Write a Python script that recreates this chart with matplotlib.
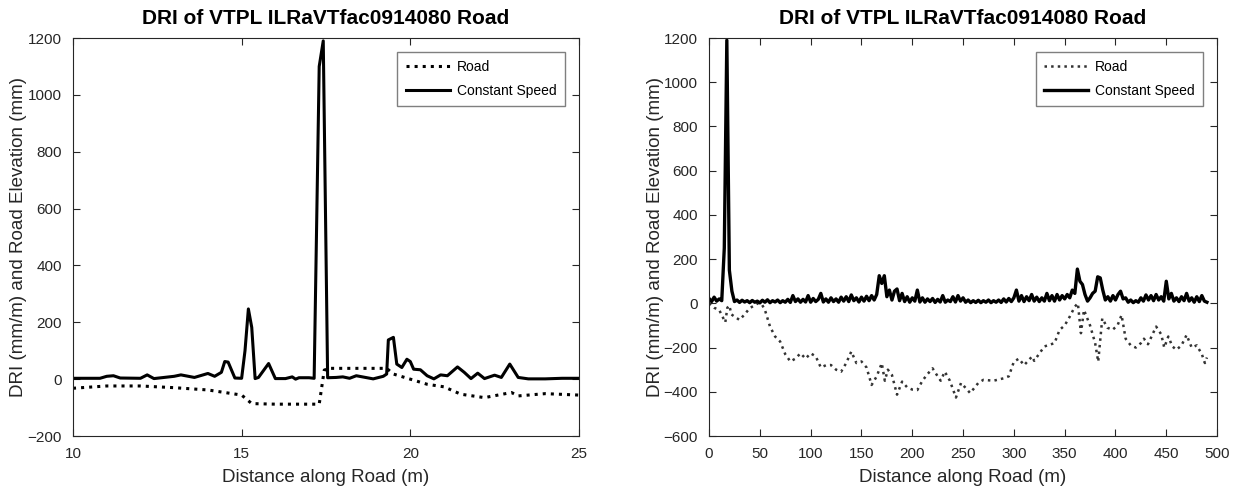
import matplotlib
matplotlib.use("Agg")
import matplotlib.pyplot as plt
import numpy as np

plt.rcParams['font.family'] = ['Liberation Sans', 'DejaVu Sans']

# ---- data ----
title = "DRI of VTPL ILRaVTfac0914080 Road"
xlabel = "Distance along Road (m)"
ylabel = "DRI (mm/m) and Road Elevation (mm)"

# left panel: zoom 10-25 m
zoom_dri_x = [10.0, 10.8, 11.0, 11.2, 11.4, 12.0, 12.2, 12.4, 13.0, 13.2, 13.6, 14.0, 14.2,
              14.4, 14.5, 14.6, 14.8, 15.0, 15.1, 15.2, 15.3, 15.4, 15.5, 15.8, 16.0, 16.3,
              16.5, 16.6, 16.7, 17.0, 17.15, 17.3, 17.42, 17.55, 17.8, 18.0, 18.2, 18.4,
              18.9, 19.2, 19.3, 19.35, 19.5, 19.6, 19.75, 19.9, 20.0, 20.1, 20.3, 20.5,
              20.7, 20.9, 21.1, 21.4, 21.6, 21.8, 22.0, 22.2, 22.5, 22.7, 22.95, 23.2,
              23.5, 24.0, 24.5, 25.0]
zoom_dri_y = [3, 3, 10, 12, 4, 3, 15, 2, 10, 15, 6, 20, 10,
              24, 62, 60, 4, 3, 100, 247, 182, 2, 6, 55, 2, 2,
              8, 0, 5, 5, 3, 1100, 1190, 5, 6, 8, 3, 12,
              1, 10, 18, 138, 147, 53, 41, 70, 62, 35, 33, 12,
              1, 15, 12, 43, 24, 2, 21, 2, 14, 6, 53, 6,
              1, 1, 3, 3]

zoom_road_x = [10.0, 11.0, 12.0, 13.0, 14.0, 14.5, 15.0, 15.3, 16.0, 17.3, 17.45, 17.6,
               19.3, 19.5, 20.0, 20.5, 21.0, 21.5, 22.2, 22.6, 23.0, 23.2, 24.0, 25.0]
zoom_road_y = [-32, -24, -24, -30, -38, -47, -56, -86, -88, -88, 32, 38,
               38, 18, 0, -18, -27, -53, -65, -56, -47, -59, -51, -56]

# right panel: whole road, DRI sampled every 2.5 m from 0 to 490 m
full_dri_y = [22, 8, 28, 10, 20, 12, 250, 1190, 150, 55,
              8, 15, 4, 14, 6, 12, 3, 13, 5, 10,
              2, 14, 5, 16, 3, 12, 6, 15, 3, 12,
              5, 18, 4, 35, 8, 20, 5, 18, 6, 35,
              5, 22, 8, 18, 45, 6, 20, 5, 25, 8,
              20, 5, 28, 10, 30, 8, 38, 12, 25, 6,
              28, 10, 32, 12, 35, 15, 40, 125, 90, 125,
              30, 60, 15, 55, 65, 12, 45, 8, 30, 5,
              25, 10, 60, 6, 25, 5, 20, 8, 22, 4,
              18, 6, 35, 5, 15, 8, 30, 6, 35, 10,
              25, 5, 15, 3, 12, 4, 14, 3, 12, 5,
              15, 3, 12, 5, 15, 4, 20, 6, 22, 8,
              25, 60, 10, 35, 8, 30, 12, 40, 10, 28,
              8, 25, 10, 45, 12, 35, 10, 40, 15, 35,
              20, 40, 25, 60, 45, 155, 100, 85, 40, 10,
              25, 45, 55, 120, 115, 60, 15, 30, 10, 35,
              15, 40, 55, 20, 25, 5, 15, 3, 12, 5,
              25, 10, 38, 15, 35, 12, 40, 15, 30, 10,
              100, 20, 45, 10, 25, 8, 30, 12, 45, 10,
              25, 5, 30, 8, 35, 10, 5]

full_road_x = [0, 5, 10, 16, 18, 20, 22, 25, 30, 35, 40, 48, 52, 55, 60, 65, 70, 75, 80,
               85, 90, 95, 100, 105, 110, 115, 120, 125, 130, 135, 140, 145, 150, 155,
               160, 165, 170, 173, 176, 180, 185, 190, 195, 200, 205, 210, 215, 220,
               225, 228, 232, 237, 243, 248, 252, 257, 265, 270, 280, 290, 295, 300,
               305, 310, 318, 320, 330, 340, 345, 350, 355, 360, 363, 366, 369, 375,
               380, 383, 387, 392, 397, 402, 406, 410, 415, 420, 425, 428, 432, 440,
               445, 448, 452, 456, 460, 465, 470, 475, 480, 485, 488, 490]
full_road_y = [0, -20, -30, -86, -20, -10, -50, -60, -75, -50, -22, 0, -5, -30, -105,
               -150, -173, -230, -263, -250, -226, -250, -226, -240, -290, -280, -279,
               -300, -309, -270, -218, -270, -263, -290, -369, -330, -271, -350, -300,
               -324, -413, -354, -380, -390, -392, -350, -320, -294, -330, -350, -309,
               -350, -426, -360, -380, -406, -360, -346, -350, -339, -330, -264, -250,
               -280, -240, -260, -195, -180, -120, -100, -60, -15, 0, -135, -30, -100,
               -180, -264, -68, -110, -120, -100, -53, -160, -190, -200, -180, -160,
               -185, -105, -140, -200, -150, -195, -210, -190, -143, -200, -190, -230,
               -270, -245]

full_dri_x = np.linspace(0, 490, len(full_dri_y))

# ---- figure ----
ink = '#262626'
fig = plt.figure(figsize=(12.37, 4.91), dpi=100)
ax1 = fig.add_axes([0.059, 0.112, 0.409, 0.8106])
ax2 = fig.add_axes([0.5732, 0.112, 0.4107, 0.8106])

ax1.plot(zoom_road_x, zoom_road_y, color='black', linestyle=':', linewidth=2.2, label='Road')
ax1.plot(zoom_dri_x, zoom_dri_y, color='black', linestyle='-', linewidth=2.2, label='Constant Speed')
ax1.set_xlim(10, 25)
ax1.set_ylim(-200, 1200)
ax1.set_xticks([10, 15, 20, 25])
ax1.set_yticks(np.arange(-200, 1201, 200))

ax2.plot(full_road_x, full_road_y, color='#333333', linestyle=':', linewidth=1.8, label='Road')
ax2.plot(full_dri_x, full_dri_y, color='black', linestyle='-', linewidth=2.4, label='Constant Speed')
ax2.set_xlim(0, 500)
ax2.set_ylim(-600, 1200)
ax2.set_xticks(np.arange(0, 501, 50))
ax2.set_yticks(np.arange(-600, 1201, 200))

for ax in (ax1, ax2):
    ax.set_title(title, fontsize=15, fontweight='bold', color='black', pad=10)
    ax.set_xlabel(xlabel, fontsize=13.5, color=ink, labelpad=6)
    ax.set_ylabel(ylabel, fontsize=13.5, color=ink, labelpad=0)
    ax.tick_params(direction='in', length=5, width=0.8, top=True, right=True,
                   labelsize=11, colors=ink, pad=8)
    for s in ax.spines.values():
        s.set_color(ink)
        s.set_linewidth(0.8)
    leg = ax.legend(loc='upper right', fontsize=10, handlelength=3.2, fancybox=False,
                    framealpha=1, edgecolor='#7f7f7f', borderaxespad=1.0,
                    borderpad=0.6, labelspacing=0.7, handletextpad=0.5)
    leg.get_frame().set_linewidth(1.0)

fig.savefig('out.png', dpi=100)
